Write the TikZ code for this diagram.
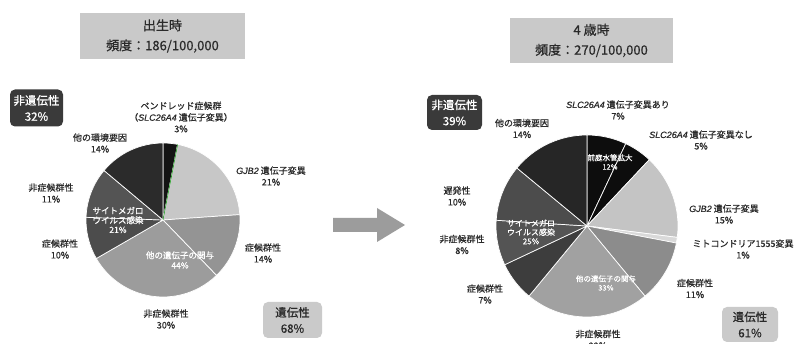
\documentclass[tikz,border=0pt]{standalone}
\usepackage{fontspec}
\setmainfont{Noto Sans CJK JP}[FakeBold=0.6]
\newfontfamily\genefont{Liberation Sans}[FakeBold=0.6]
\newcommand\gene[1]{{\genefont\itshape #1}}
\definecolor{labelgray}{HTML}{2A2A2A}
\definecolor{titlegray}{HTML}{C9C9C9}
\definecolor{darkbox}{HTML}{3A3A3A}
\definecolor{lightbox}{HTML}{CACACA}
\definecolor{arrowgray}{HTML}{9C9C9C}
\tikzset{
  lbl/.style={align=center, font=\fontsize{9}{11.5}\selectfont, text=labelgray, inner sep=1pt},
  inlbl/.style={align=center, font=\fontsize{7.5}{9}\selectfont, text=white, inner sep=0pt},
  titlebox/.style={fill=titlegray, minimum height=46pt, align=center, text=labelgray,
    font=\fontsize{13}{20}\selectfont},
  nonbox/.style={fill=darkbox, rounded corners=5pt, text=white, align=center, minimum height=37pt,
    font=\fontsize{11.5}{16}\selectfont},
  genbox/.style={fill=lightbox, rounded corners=5pt, text=labelgray, align=center, minimum height=36pt,
    font=\fontsize{11.5}{16}\selectfont},
  slice/.style={draw=white, line width=.7pt}
}
\begin{document}
\begin{tikzpicture}[x=1pt, y=1pt]
  \useasboundingbox (0,0) rectangle (809,344);
  \fill[white] (0,0) rectangle (809,344);

  \coordinate (birth) at (163,124);
  \foreach \a/\b/\g [count=\i] in {90/79/92, 79/4/22, 4/-46/42, -46/-150/39, -150/-182/70, -182/-220/67, -220/-270/83}
    \filldraw[slice, fill=black!\g] (birth) -- ++(\a:77) arc[start angle=\a, end angle=\b, radius=77] -- cycle;
  \draw[green!55!black, line width=.5pt] (birth) -- ++(79:77);

  \node[titlebox, minimum width=165pt] (title-birth) at (162.5,308) {出生時\\頻度：186/100,000};
  \node[nonbox, minimum width=53pt] (non-birth) at (36.5,236) {非遺伝性\\32\%};
  \node[genbox, minimum width=59pt] (gen-birth) at (292.5,24) {遺伝性\\68\%};

  \node[lbl] (pendred) at (181,227) {ペンドレッド症候群\\（\gene{SLC26A4} 遺伝子変異）\\3\%};
  \node[lbl] (env-birth) at (100,201) {他の環境要因\\14\%};
  \node[lbl] (cmv-ns-birth) at (51,151) {非症候群性\\11\%};
  \node[lbl] (cmv-s-birth) at (60,95) {症候群性\\10\%};
  \node[lbl] (gjb-birth) at (271,168) {\gene{GJB2} 遺伝子変異\\21\%};
  \node[lbl] (syn-birth) at (263,91) {症候群性\\14\%};
  \node[lbl] (nsyn-birth) at (166,25) {非症候群性\\30\%};

  \node[inlbl, font=\fontsize{8.5}{9.5}\selectfont] (cmv-birth) at (118,124) {サイトメガロ\\ウイルス感染\\21\%};
  \node[inlbl, font=\fontsize{8.5}{10}\selectfont] (other-birth) at (180,84) {他の遺伝子の関与\\44\%};

  \fill[arrowgray] (333,126) -- (377,126) -- (377,136) -- (405,119) -- (377,102) -- (377,112) -- (333,112) -- cycle;

  \coordinate (age) at (587,118);
  \foreach \a/\b/\g [count=\i] in {90/64.8/95, 64.8/46.8/95, 46.8/-7.2/23, -7.2/-10.8/15, -10.8/-50.4/45, -50.4/-129.6/37,
      -129.6/-154.8/76, -154.8/-183.6/67, -183.6/-219.6/70, -219.6/-270/85}
    \filldraw[slice, fill=black!\g] (age) -- ++(\a:91) arc[start angle=\a, end angle=\b, radius=91] -- cycle;

  \node[titlebox, minimum width=163pt, minimum height=45pt] (title-age) at (591.5,303.5) {4 歳時\\頻度：270/100,000};
  \node[nonbox, minimum width=55pt, minimum height=35pt] (non-age) at (454.5,231.5) {非遺伝性\\39\%};
  \node[genbox, minimum width=56pt, minimum height=35pt] (gen-age) at (750,19.5) {遺伝性\\61\%};

  \node[lbl] (slc-yes) at (618,234) {\gene{SLC26A4} 遺伝子変異あり\\7\%};
  \node[lbl] (env-age) at (522,215.5) {他の環境要因\\14\%};
  \node[lbl] (slc-no) at (701,204) {\gene{SLC26A4} 遺伝子変異なし\\5\%};
  \node[lbl] (late-age) at (457,148) {遅発性\\10\%};
  \node[lbl] (gjb-age) at (724,130) {\gene{GJB2} 遺伝子変異\\15\%};
  \node[lbl] (mito-age) at (743,95) {ミトコンドリア1555変異\\1\%};
  \node[lbl] (cmv-ns-age) at (462,99.5) {非症候群性\\8\%};
  \node[lbl] (cmv-s-age) at (485,50) {症候群性\\7\%};
  \node[lbl] (syn-age) at (695,55.5) {症候群性\\11\%};
  \node[lbl] (nsyn-age) at (598,4.5) {非症候群性\\22\%};

  \node[inlbl] (eva-age) at (610,182) {前庭水管拡大\\12\%};
  \node[inlbl, font=\fontsize{8}{9}\selectfont] (cmv-age) at (531,112) {サイトメガロ\\ウイルス感染\\25\%};
  \node[inlbl] (other-age) at (606,61) {他の遺伝子の関与\\33\%};
\end{tikzpicture}
\end{document}
